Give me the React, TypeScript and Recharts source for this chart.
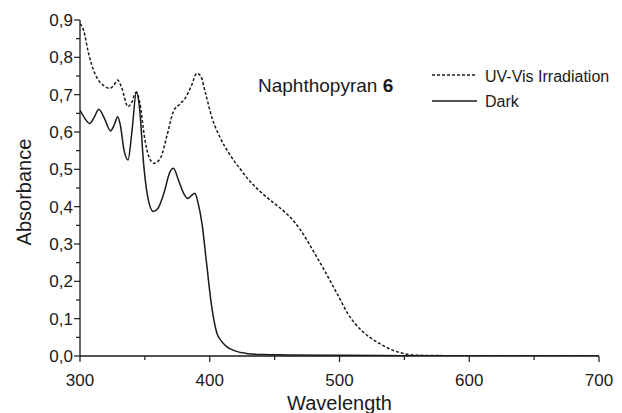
import React from 'react';
import { LineChart, Line, XAxis, YAxis, Legend } from 'recharts';

const FONT = '"Liberation Sans", Arial, sans-serif';

const wavelengthTicks = [300, 350, 400, 450, 500, 550, 600, 650, 700];
const absorbanceTicks = [0, 0.05, 0.1, 0.15, 0.2, 0.25, 0.3, 0.35, 0.4, 0.45, 0.5, 0.55, 0.6, 0.65, 0.7, 0.75, 0.8, 0.85, 0.9];

const uvWavelength = [300, 303, 306, 309, 314, 318, 323, 326, 329, 332, 337, 340, 343, 346, 350, 353, 357, 362, 367, 372, 377, 381, 386, 390, 393, 397, 402, 408, 415, 423, 431, 440, 450, 458, 465, 470, 475, 480, 487, 493, 500, 506, 512, 518, 525, 531, 540, 549, 560, 580, 600, 650, 700];
const uvAbsorbance = [0.89, 0.87, 0.82, 0.78, 0.74, 0.725, 0.717, 0.725, 0.739, 0.72, 0.668, 0.68, 0.706, 0.68, 0.58, 0.535, 0.516, 0.53, 0.59, 0.655, 0.675, 0.69, 0.725, 0.757, 0.75, 0.7, 0.635, 0.585, 0.542, 0.503, 0.468, 0.437, 0.408, 0.385, 0.36, 0.337, 0.31, 0.28, 0.238, 0.2, 0.155, 0.116, 0.087, 0.065, 0.046, 0.033, 0.017, 0.007, 0.002, 0.001, 0, 0, 0];

const darkWavelength = [300, 304, 307.5, 311, 314.5, 319, 323.5, 326.5, 329, 331, 334, 337, 340, 343.5, 346, 349, 352, 356.5, 360, 365, 369, 372, 376, 380, 383, 386, 388.5, 391, 394, 397.5, 401.5, 405.5, 409, 413, 420, 428, 440, 460, 500, 550, 600, 700];
const darkAbsorbance = [0.659, 0.635, 0.623, 0.64, 0.661, 0.635, 0.603, 0.62, 0.641, 0.62, 0.55, 0.525, 0.6, 0.708, 0.66, 0.516, 0.43, 0.387, 0.395, 0.44, 0.49, 0.503, 0.47, 0.435, 0.422, 0.43, 0.436, 0.41, 0.355, 0.25, 0.132, 0.061, 0.04, 0.025, 0.013, 0.007, 0.004, 0.003, 0.002, 0.001, 0, 0];

const uvData = uvWavelength.map((w, i) => ({ w, a: uvAbsorbance[i] }));
const darkData = darkWavelength.map((w, i) => ({ w, a: darkAbsorbance[i] }));

const INK = '#1a1a1a';

const XTick = (props: any) => {
  const { x, y, payload } = props;
  const v = payload.value;
  const major = v % 100 === 0;
  return (
    <g>
      <line x1={x} x2={x} y1={y} y2={y + (major ? 6 : 4)} stroke={INK} strokeWidth={1.2} />
      {major && (
        <text x={x} y={y + 30} textAnchor="middle" fontSize={17} fontFamily={FONT} fill={INK}>
          {v}
        </text>
      )}
    </g>
  );
};

const YTick = (props: any) => {
  const { x, y, payload } = props;
  const v = payload.value;
  const major = Math.round(v * 100) % 10 === 0;
  return (
    <g>
      <line x1={x - (major ? 6 : 4)} x2={x} y1={y} y2={y} stroke={INK} strokeWidth={1.2} />
      {major && (
        <text x={x - 7} y={y + 6} textAnchor="end" fontSize={17} fontFamily={FONT} fill={INK}>
          {v.toFixed(1).replace('.', ',')}
        </text>
      )}
    </g>
  );
};

const XLabel = (props: any) => {
  const { viewBox } = props;
  return (
    <text x={viewBox.x + viewBox.width / 2} y={410} textAnchor="middle" fontSize={20} fontFamily={FONT} fill={INK}>
      Wavelength
    </text>
  );
};

const YLabel = (props: any) => {
  const { viewBox } = props;
  const cy = viewBox.y + viewBox.height / 2 + 4;
  return (
    <text x={31} y={cy} transform={`rotate(-90 31 ${cy})`} textAnchor="middle" fontSize={20} fontFamily={FONT} fill={INK}>
      Absorbance
    </text>
  );
};

const LegendContent = () => (
  <svg width={622} height={120} style={{ display: 'block' }}>
    <text x={258} y={92} fontSize={19} fontFamily={FONT} fill={INK}>
      Naphthopyran <tspan fontWeight="bold">6</tspan>
    </text>
    <line x1={432} x2={477} y1={75} y2={75} stroke={INK} strokeWidth={1.4} strokeDasharray="3 2" />
    <text x={485} y={81.5} fontSize={16} fontFamily={FONT} fill={INK}>UV-Vis Irradiation</text>
    <line x1={432} x2={477} y1={101} y2={101} stroke={INK} strokeWidth={1.4} />
    <text x={485} y={107} fontSize={16} fontFamily={FONT} fill={INK}>Dark</text>
  </svg>
);

export default function App() {
  return (
    <div style={{ position: 'absolute', left: 0, top: 0, width: 622, height: 413, background: '#fff' }}>
      <LineChart width={622} height={413} margin={{ top: 20, right: 23, bottom: 0, left: 0 }}>
        <XAxis
          dataKey="w"
          type="number"
          domain={[300, 700]}
          ticks={wavelengthTicks}
          allowDataOverflow
          interval={0}
          height={57}
          tickSize={0}
          tickMargin={0}
          tickLine={false}
          axisLine={{ stroke: INK, strokeWidth: 1.3 }}
          tick={<XTick />}
          label={<XLabel />}
        />
        <YAxis
          dataKey="a"
          type="number"
          domain={[0, 0.9]}
          ticks={absorbanceTicks}
          allowDataOverflow
          interval={0}
          width={80}
          tickSize={0}
          tickMargin={0}
          tickLine={false}
          axisLine={{ stroke: INK, strokeWidth: 1.3 }}
          tick={<YTick />}
          label={<YLabel />}
        />
        <Legend
          layout="vertical"
          align="center"
          verticalAlign="middle"
          wrapperStyle={{ position: 'absolute', left: 0, top: 0, width: 622, height: 120 }}
          content={<LegendContent />}
        />
        <Line
          data={uvData}
          dataKey="a"
          name="UV-Vis Irradiation"
          type="monotone"
          stroke={INK}
          strokeWidth={1.5}
          strokeDasharray="3 2"
          dot={false}
          activeDot={false}
          isAnimationActive={false}
        />
        <Line
          data={darkData}
          dataKey="a"
          name="Dark"
          type="monotone"
          stroke={INK}
          strokeWidth={1.5}
          dot={false}
          activeDot={false}
          isAnimationActive={false}
        />
      </LineChart>
    </div>
  );
}
